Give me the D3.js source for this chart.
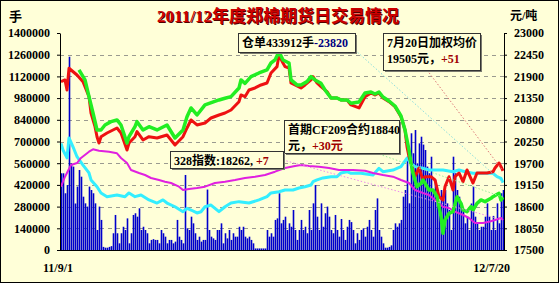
<!DOCTYPE html>
<html>
<head>
<meta charset="utf-8">
<script src="https://cdn.jsdelivr.net/npm/d3@7"></script>
<style>
    body { margin: 0; background: #fff; }
    svg text { font-family: "Liberation Serif", "Noto Sans CJK SC", serif; font-weight: bold; }
</style>
</head>
<body>
<svg id="chart" width="559" height="283"></svg>
<script>
//  daily volume (手), one bar per trading day, 11/9/1 .. 12/7/20
const volume = [
    495000, 495000, 366000, 419000, 1247000, 559000, 538000, 300000, 409000, 516000,
    473000, 344000, 301000, 280000, 409000, 387000, 366000, 301000, 129000, 280000,
    194000, 20000, 15000, 15000, 20000, 25000, 108000, 226000, 108000, 43000,
    108000, 150000, 129000, 204000, 43000, 108000, 226000, 237000, 215000, 269000,
    129000, 150000, 129000, 108000, 43000, 65000, 70000, 65000, 65000, 43000,
    129000, 108000, 86000, 43000, 65000, 65000, 43000, 54000, 194000, 86000,
    65000, 43000, 484000, 140000, 129000, 215000, 172000, 108000, 65000, 86000,
    54000, 65000, 65000, 390000, 129000, 86000, 75000, 65000, 129000, 129000,
    172000, 43000, 108000, 75000, 129000, 65000, 108000, 86000, 86000, 150000,
    129000, 150000, 86000, 75000, 86000, 65000, 43000, 10000, 10000, 10000,
    10000, 10000, 10000, 129000, 86000, 108000, 86000, 194000, 204000, 366000,
    172000, 194000, 215000, 129000, 172000, 150000, 258000, 129000, 65000, 129000,
    194000, 129000, 150000, 108000, 258000, 129000, 301000, 419000, 215000, 129000,
    301000, 150000, 237000, 280000, 215000, 129000, 108000, 226000, 129000, 86000,
    200000, 129000, 65000, 150000, 194000, 180000, 129000, 43000, 108000, 65000,
    129000, 140000, 86000, 150000, 194000, 129000, 86000, 258000, 333000, 129000,
    86000, 43000, 15000, 15000, 20000, 30000, 129000, 172000, 150000, 172000,
    194000, 344000, 387000, 602000, 301000, 753000, 624000, 774000, 559000, 688000,
    731000, 680000, 645000, 538000, 495000, 602000, 366000, 452000, 387000, 258000,
    387000, 320000, 387000, 301000, 258000, 129000, 602000, 495000, 387000, 344000,
    301000, 258000, 172000, 215000, 129000, 300000, 409000, 215000, 172000, 129000,
    150000, 150000, 215000, 301000, 215000, 129000, 220000, 129000, 301000, 172000,
    366000, 387000
];

//  [trading day, value] pairs
const warehouse = [   // 仓单, 手 (left axis)
    [0, 688000], [1, 645000], [3, 594000], [4, 723000], [6, 666000], [8, 602000], [11, 548000],
    [14, 497000], [15, 452000], [18, 408000], [20, 368000], [23, 344000], [28, 355000], [32, 344000],
    [34, 368000], [37, 344000], [40, 355000], [44, 323000], [48, 303000], [51, 323000], [53, 303000],
    [57, 279000], [61, 247000], [63, 269000], [65, 258000], [68, 239000], [70, 247000], [72, 279000],
    [75, 290000], [79, 247000], [82, 279000], [85, 303000], [89, 312000], [94, 303000], [99, 323000],
    [103, 344000], [105, 368000], [109, 376000], [112, 387000], [116, 387000], [119, 400000],
    [122, 408000], [125, 419000], [126, 441000], [128, 452000], [131, 465000], [135, 473000],
    [138, 473000], [140, 497000], [143, 505000], [145, 495000], [150, 495000], [156, 484000],
    [159, 527000], [161, 505000], [166, 516000], [170, 538000], [173, 592000], [175, 559000],
    [177, 538000], [181, 527000], [184, 516000], [187, 516000], [191, 516000], [196, 505000],
    [199, 516000], [202, 505000], [206, 495000], [209, 495000], [212, 495000], [216, 495000],
    [218, 473000], [220, 462000], [221, 433912]
];

const index328 = [    // 328指数, 元/吨 (right axis)
    [0, 19105], [2, 19358], [5, 19655], [8, 19705], [10, 19832], [14, 19992], [16, 20053],
    [19, 20017], [24, 19992], [28, 19951], [30, 19832], [33, 19705], [35, 19528], [39, 19452],
    [42, 19401], [45, 19325], [49, 19275], [52, 19231], [55, 19198], [59, 19105], [61, 19021],
    [64, 19046], [68, 19072], [72, 19105], [77, 19198], [82, 19231], [87, 19275], [92, 19325],
    [97, 19358], [102, 19401], [107, 19485], [112, 19579], [117, 19629], [120, 19655], [124, 19629],
    [129, 19612], [134, 19579], [139, 19528], [144, 19528], [146, 19528], [152, 19510], [156, 19452],
    [161, 19401], [166, 19358], [170, 19275], [174, 19198], [177, 19021], [181, 18945], [184, 18894],
    [187, 18768], [191, 18598], [194, 18565], [197, 18471], [201, 18387], [204, 18311], [207, 18184],
    [211, 18184], [214, 18217], [217, 18261], [220, 18311], [221, 18262]
];

const avgPrice = [    // 加权均价, 元/吨 (right axis)
    [0, 21767], [2, 21810], [3, 21556], [4, 22106], [8, 21936], [11, 21767], [14, 21386],
    [15, 20973], [17, 20626], [18, 20372], [19, 20212], [20, 20372], [23, 20466], [28, 20593],
    [30, 20466], [33, 20035], [34, 20212], [37, 20372], [38, 20499], [41, 20289], [44, 20372],
    [48, 20339], [53, 20415], [57, 20162], [61, 20372], [63, 20593], [65, 20796], [68, 20669],
    [72, 20719], [75, 20846], [79, 20922], [82, 20973], [85, 21049], [89, 21259], [90, 21429],
    [92, 21386], [94, 21556], [97, 21607], [100, 21683], [103, 21733], [105, 21987], [108, 22147],
    [109, 22443], [111, 22240], [112, 22147], [114, 22114], [115, 21733], [117, 21683], [120, 21607],
    [122, 21683], [125, 21810], [126, 21893], [128, 21733], [130, 21640], [133, 21513], [135, 21353],
    [138, 21353], [140, 21303], [143, 21303], [145, 21176], [149, 21100], [152, 21386], [155, 21480],
    [157, 21429], [159, 21480], [161, 21353], [164, 21259], [167, 21133], [170, 20879], [172, 20542],
    [173, 20119], [174, 19865], [176, 19528], [177, 19358], [179, 19579], [181, 19275], [182, 19358],
    [185, 19358], [187, 19275], [189, 18851], [191, 18768], [192, 19105], [194, 19358], [196, 19021],
    [197, 19358], [199, 19452], [201, 19231], [203, 19528], [206, 19198], [208, 19452], [211, 19452],
    [213, 19452], [216, 19485], [217, 19579], [219, 19706], [220, 19612], [221, 19505]
];

const cf209 = [       // 首期CF209, 元/吨 (right axis)
    [9, 22063], [12, 21810], [14, 21386], [16, 20973], [18, 20542], [20, 20542], [22, 20669],
    [25, 20753], [28, 20796], [30, 20669], [33, 20212], [34, 20372], [37, 20626], [38, 20753],
    [41, 20542], [44, 20626], [48, 20542], [53, 20669], [57, 20339], [61, 20542], [63, 20879],
    [65, 21100], [68, 20922], [72, 21176], [79, 21303], [82, 21345], [85, 21386], [89, 21607],
    [90, 21810], [92, 21725], [95, 21893], [99, 21987], [103, 22063], [105, 22240], [107, 22317],
    [109, 22527], [111, 22317], [114, 22240], [115, 21810], [118, 21683], [120, 21683], [123, 21767],
    [125, 21893], [127, 21810], [130, 21725], [132, 21556], [135, 21353], [138, 21353], [140, 21303],
    [143, 21303], [145, 21219], [149, 21252], [152, 21480], [155, 21505], [157, 21455], [159, 21505],
    [161, 21378], [164, 21277], [167, 21150], [170, 20897], [172, 20542], [174, 20035], [175, 19705],
    [176, 19444], [178, 19105], [180, 19190], [181, 19275], [184, 19021], [186, 19021], [188, 18851],
    [190, 18344], [191, 17923], [192, 18261], [194, 18430], [196, 18471], [198, 18851], [200, 18684],
    [201, 18514], [203, 18471], [205, 18598], [206, 18514], [208, 18684], [210, 18768], [212, 18726],
    [215, 18810], [216, 18851], [219, 18937], [220, 18768], [221, 18840]
];

const leftTicks = [0, 140000, 280000, 420000, 560000, 700000, 840000, 980000, 1120000, 1260000, 1400000];
const rightTicks = [17500, 18050, 18600, 19150, 19700, 20250, 20800, 21350, 21900, 22450, 23000];
const dateLabels = ["11/9/1", "12/7/20"];

const W = 559, H = 283;
const bg = "#FFFFD8";
const plot = { left: 60, right: 504, top: 33, bottom: 250 };

const svg = d3.select("#chart");

svg.append("rect").attr("x", 0.5).attr("y", 0.5)
    .attr("width", W - 1).attr("height", H - 1)
    .attr("fill", bg).attr("stroke", "#000");

const x = d3.scaleLinear().domain([0, volume.length - 1]).range([plot.left + 1, plot.right - 1]);
const yL = d3.scaleLinear().domain([0, 1400000]).range([plot.bottom, plot.top]);
const yR = d3.scaleLinear().domain([17500, 23000]).range([plot.bottom, plot.top]);

//  dashed grid
svg.append("g").selectAll("line")
    .data(leftTicks.slice(1, -1))
    .join("line")
    .attr("x1", plot.left).attr("x2", plot.right)
    .attr("y1", d => Math.round(yL(d)) + 0.5).attr("y2", d => Math.round(yL(d)) + 0.5)
    .attr("stroke", "#9a9a90").attr("stroke-dasharray", "4,4");

//  volume bars
svg.append("g").selectAll("rect")
    .data(volume)
    .join("rect")
    .attr("x", (d, i) => x(i) - 0.3)
    .attr("width", 1.6)
    .attr("y", d => yL(d))
    .attr("height", d => plot.bottom - yL(d))
    .attr("fill", "#0000CC");

//  lines
const lineL = d3.line().x(d => x(d[0])).y(d => yL(d[1]));
const lineR = d3.line().x(d => x(d[0])).y(d => yR(d[1]));

svg.append("path").datum(warehouse).attr("d", lineL)
    .attr("fill", "none").attr("stroke", "#33EEFF").attr("stroke-width", 3).attr("stroke-linejoin", "round");
svg.append("path").datum(index328).attr("d", lineR)
    .attr("fill", "none").attr("stroke", "#E020E0").attr("stroke-width", 2).attr("stroke-linejoin", "round");
svg.append("path").datum(avgPrice).attr("d", lineR)
    .attr("fill", "none").attr("stroke", "#EE1111").attr("stroke-width", 3).attr("stroke-linejoin", "round");
svg.append("path").datum(cf209).attr("d", lineR)
    .attr("fill", "none").attr("stroke", "#22EE22").attr("stroke-width", 3.5).attr("stroke-linejoin", "round");

//  axes
const axL = svg.append("g").attr("transform", `translate(${plot.left},0)`)
    .call(d3.axisLeft(yL).tickValues(leftTicks).tickSize(3).tickSizeOuter(0).tickPadding(7).tickFormat(d3.format("d")));
const axR = svg.append("g").attr("transform", `translate(${plot.right},0)`)
    .call(d3.axisRight(yR).tickValues(rightTicks).tickSize(3).tickSizeOuter(0).tickPadding(7).tickFormat(d3.format("d")));
[axL, axR].forEach(ax => {
    ax.select(".domain").attr("stroke", "#000");
    ax.selectAll(".tick line").attr("stroke", "#000");
    ax.selectAll(".tick text").attr("fill", "#000").style("font-size", "12px")
        .style("font-family", "Liberation Serif").style("font-weight", "bold");
});
svg.append("line").attr("x1", plot.left).attr("x2", plot.right)
    .attr("y1", plot.bottom + 0.5).attr("y2", plot.bottom + 0.5).attr("stroke", "#000");

svg.selectAll(".dateLabel")
    .data(dateLabels)
    .join("text")
    .attr("x", (d, i) => i === 0 ? 43 : 510)
    .attr("y", 272)
    .attr("text-anchor", (d, i) => i === 0 ? "start" : "end")
    .style("font-size", "12px")
    .text(d => d);

//  title and units
const title = "2011/12年度郑棉期货日交易情况";
svg.append("text").attr("x", 279).attr("y", 23).attr("text-anchor", "middle")
    .attr("fill", "#500000").style("font-size", "17px").text(title);
svg.append("text").attr("x", 278).attr("y", 22).attr("text-anchor", "middle")
    .attr("fill", "#CC0000").style("font-size", "17px").text(title);
svg.append("text").attr("x", 9).attr("y", 21).style("font-size", "13px").text("手");
svg.append("text").attr("x", 510).attr("y", 20).style("font-size", "12px").text("元/吨");

//  leader lines from the notes to the series ends
const last = a => a[a.length - 1];
const leaders = [
    { from: [355, 50], to: last(warehouse), y: yL, color: "#88DDDD" },
    { from: [427, 70], to: last(avgPrice), y: yR, color: "#DD7777" },
    { from: [376, 153], to: last(cf209), y: yR, color: "#99EE99" },
    { from: [283, 160], to: last(index328), y: yR, color: "#EE88EE" }
];
svg.append("g").selectAll("line")
    .data(leaders)
    .join("line")
    .attr("x1", d => d.from[0]).attr("y1", d => d.from[1])
    .attr("x2", d => x(d.to[0])).attr("y2", d => d.y(d.to[1]))
    .attr("stroke", d => d.color).attr("stroke-width", 1).attr("stroke-dasharray", "1.5,2");

//  note boxes
const notes = [
    { box: [238, 33, 117, 19], lines: [[["仓单433912手", "#000"], ["-23820", "#000080"]]] },
    { box: [383, 33, 97, 37], lines: [[["7月20日加权均价", "#000"]], [["19505元，", "#000"], ["+51", "#A00000"]]] },
    { box: [284, 120, 115, 33], lines: [[["首期CF209合约18840", "#000"]], [["元，", "#000"], ["+30元", "#A00000"]]] },
    { box: [170, 151, 113, 17], lines: [[["328指数:18262, ", "#000"], ["+7", "#A00000"]]] }
];
notes.forEach(n => {
    const [bx, by, bw, bh] = n.box;
    svg.append("rect").attr("x", bx + 2).attr("y", by + 2).attr("width", bw).attr("height", bh)
        .attr("fill", "#7a7a70");
    svg.append("rect").attr("x", bx + 0.5).attr("y", by + 0.5).attr("width", bw).attr("height", bh)
        .attr("fill", bg).attr("stroke", "#333");
    n.lines.forEach((ln, k) => {
        const t = svg.append("text").attr("x", bx + 4).attr("y", by + 14 + k * 16).style("font-size", "12px");
        ln.forEach(([s, c]) => t.append("tspan").attr("fill", c).text(s));
    });
});
</script>
</body>
</html>
